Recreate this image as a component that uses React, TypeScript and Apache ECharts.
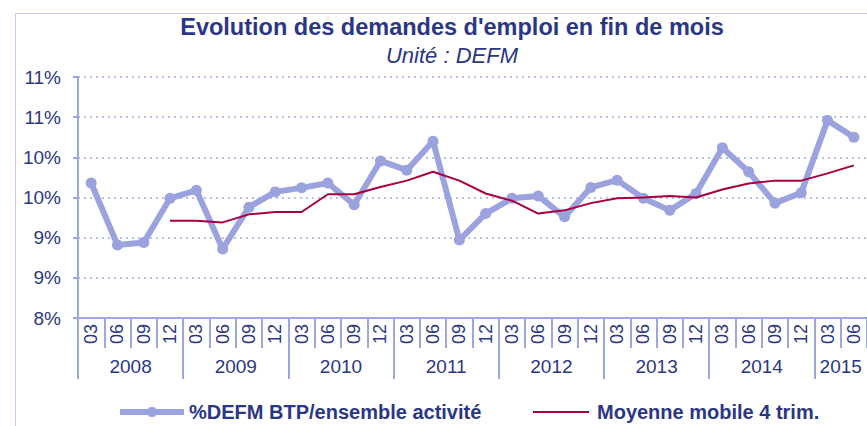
import React, { useEffect, useRef } from "react";
import * as echarts from "echarts";

const years = ["2008", "2009", "2010", "2011", "2012", "2013", "2014", "2015"];
const quarters = ["03", "06", "09", "12"];
const quarterCount = 30;

const defmShare = [
  9.68, 8.91, 8.94, 9.49,
  9.59, 8.86, 9.38, 9.57,
  9.62, 9.68, 9.41, 9.955,
  9.84, 10.2, 8.97, 9.3,
  9.49, 9.52, 9.26, 9.625,
  9.716, 9.49, 9.34, 9.55,
  10.12, 9.82, 9.43, 9.56,
  10.46, 10.25,
];

const movingAvg = [
  null, null, null, 9.21,
  9.21, 9.19, 9.29, 9.32,
  9.32, 9.54, 9.54, 9.63,
  9.71, 9.82, 9.71, 9.55,
  9.46, 9.3, 9.34, 9.43,
  9.49, 9.5, 9.52, 9.5,
  9.6, 9.675, 9.71, 9.71,
  9.8, 9.9,
];

const yMin = 8;
const yMax = 11;
const yStep = 0.5;

const seriesNames = ["%DEFM BTP/ensemble activité", "Moyenne mobile 4 trim."];
const titleText = "Evolution des demandes d'emploi en fin de mois";
const subtitleText = "Unité : DEFM";

const NAVY = "#2B3785";
const BLUE = "#9BA3DE";
const RED = "#A6003F";
const AXIS = "#9EA6E2";
const GRID = "#B9BFEE";
const FONT = "'Liberation Sans', Arial, sans-serif";

export default function App() {
  const ref = useRef<HTMLDivElement>(null);

  useEffect(() => {
    if (!ref.current) return;
    const chart = echarts.init(ref.current, undefined, { renderer: "svg" });

    const quarterLabels: string[] = [];
    for (let i = 0; i < quarterCount; i++) quarterLabels.push(quarters[i % 4]);
    const yearAxisData: string[] = [];
    for (let i = 0; i <= quarterCount; i++) yearAxisData.push(years[Math.min(Math.floor(i / 4), years.length - 1)]);

    chart.setOption({
      animation: false,
      backgroundColor: "#ffffff",
      title: [
        {
          text: titleText,
          left: 452,
          top: 15,
          textAlign: "center",
          padding: 0,
          textStyle: { color: NAVY, fontSize: 23.5, fontWeight: "bold", fontFamily: FONT },
        },
        {
          text: subtitleText,
          left: 452,
          top: 44,
          textAlign: "center",
          padding: 0,
          textStyle: { color: NAVY, fontSize: 22, fontWeight: "normal", fontStyle: "italic", fontFamily: FONT },
        },
      ],
      graphic: [
        {
          type: "rect",
          left: 13,
          top: 11,
          shape: { width: 1000, height: 1000 },
          style: { fill: "none", stroke: "#C8CCF1", lineWidth: 1 },
          silent: true,
        },
      ],
      legend: [
        {
          data: [seriesNames[0]],
          left: 117,
          top: 402,
          padding: 0,
          itemWidth: 64,
          itemHeight: 13,
          itemGap: 5,
          lineStyle: { width: 6 },
          textStyle: { color: NAVY, fontSize: 20, fontWeight: "bold", fontFamily: FONT },
        },
        {
          data: [{ name: seriesNames[1], icon: "rect" }],
          left: 533,
          top: 402,
          padding: 0,
          itemWidth: 56,
          itemHeight: 2,
          textStyle: { color: NAVY, fontSize: 20, fontWeight: "bold", fontFamily: FONT, padding: [0, 0, 0, 3] },
        },
      ],
      grid: { left: 78, top: 77, width: 795, height: 241 },
      xAxis: [
        {
          type: "category",
          data: quarterLabels,
          position: "bottom",
          boundaryGap: true,
          axisLine: { show: true, onZero: false, lineStyle: { color: AXIS, width: 2 } },
          axisTick: { show: true, interval: 0, length: 30, lineStyle: { color: AXIS, width: 2 } },
          axisLabel: {
            interval: 0,
            rotate: 90,
            margin: 6,
            color: NAVY,
            fontSize: 18,
            fontFamily: FONT,
          },
          splitLine: { show: false },
        },
        {
          type: "category",
          data: yearAxisData,
          position: "bottom",
          boundaryGap: false,
          axisLine: { show: false, onZero: false },
          axisTick: {
            show: true,
            length: 61,
            interval: (i: number) => i % 4 === 0,
            lineStyle: { color: AXIS, width: 2 },
          },
          axisLabel: {
            interval: (i: number) => i % 4 === 2 || i === 29,
            margin: 39,
            color: NAVY,
            fontSize: 19,
            fontFamily: FONT,
          },
          splitLine: { show: false },
        },
      ],
      yAxis: {
        type: "value",
        min: yMin,
        max: yMax,
        interval: yStep,
        axisLine: { show: true, lineStyle: { color: AXIS, width: 2 } },
        axisTick: { show: true, length: 5, lineStyle: { color: AXIS, width: 2 } },
        axisLabel: {
          margin: 17,
          color: NAVY,
          fontSize: 19,
          fontFamily: FONT,
          formatter: (v: number) => Math.round(v) + "%",
        },
        splitLine: { show: true, lineStyle: { color: GRID, width: 2, type: [2, 4] } },
      },
      series: [
        {
          name: seriesNames[0],
          type: "line",
          data: defmShare,
          symbol: "circle",
          symbolSize: 11,
          lineStyle: { color: BLUE, width: 6 },
          itemStyle: { color: BLUE },
          z: 2,
        },
        {
          name: seriesNames[1],
          type: "line",
          data: movingAvg,
          symbol: "none",
          lineStyle: { color: RED, width: 2 },
          itemStyle: { color: RED },
          z: 3,
        },
      ],
    });

    return () => chart.dispose();
  }, []);

  return (
    <div
      ref={ref}
      style={{ position: "fixed", left: 0, top: 0, width: 867, height: 426, background: "#fff" }}
    />
  );
}
